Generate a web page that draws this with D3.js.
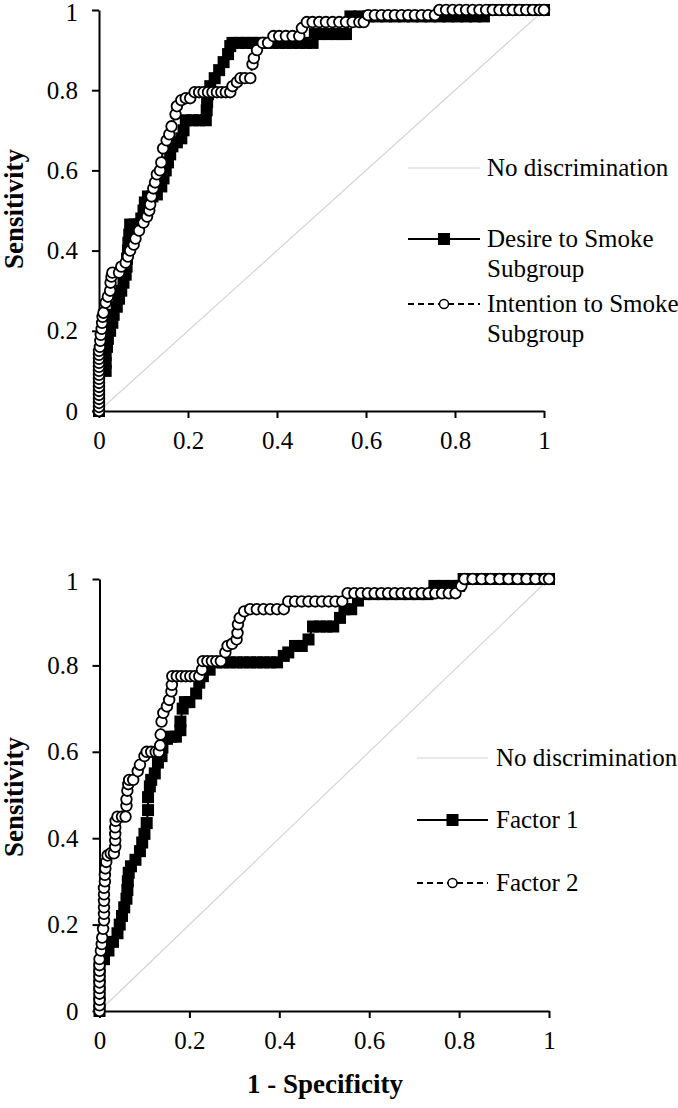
<!DOCTYPE html>
<html>
<head>
<meta charset="utf-8">
<script src="https://cdn.jsdelivr.net/npm/d3@7"></script>
<style>
  html, body { margin: 0; padding: 0; background: #fff; }
  svg { display: block; }
  text { font-family: "Liberation Serif", "Times New Roman", serif; fill: #000; }
</style>
</head>
<body>
<svg id="chart" width="678" height="1108"></svg>
<script>
// ---------- DATA ----------
const tickValues = [0, 0.2, 0.4, 0.6, 0.8, 1];
const tickLabels = ["0", "0.2", "0.4", "0.6", "0.8", "1"];
const xTitle = "1 - Specificity";
const yTitle = "Sensitivity";
const diagX = [0, 1];
const diagY = [0, 1];

// Top panel
const topLegend = ["No discrimination", "Desire to Smoke|Subgroup", "Intention to Smoke|Subgroup"];
const desireFpr = [0,0,0,0,0,0.015,0.015,0.015,0.018,0.02,0.025,0.03,0.033,0.04,0.045,0.05,0.055,0.06,0.062,0.063,0.065,0.066,0.068,0.07,0.08,0.09,0.095,0.1,0.103,0.11,0.12,0.13,0.14,0.145,0.15,0.155,0.16,0.165,0.175,0.185,0.19,0.195,0.21,0.225,0.24,0.242,0.243,0.245,0.25,0.26,0.27,0.28,0.29,0.295,0.30,0.315,0.33,0.345,0.36,0.375,0.39,0.405,0.42,0.435,0.45,0.465,0.48,0.485,0.50,0.515,0.53,0.545,0.555,0.565,0.585,0.605,0.625,0.645,0.665,0.685,0.705,0.725,0.745,0.765,0.785,0.805,0.825,0.845,0.865,0.88,0.9,0.92,0.94,0.96,0.98,1];
const desireTpr = [0,0.02,0.04,0.06,0.08,0.10,0.12,0.14,0.16,0.18,0.20,0.22,0.24,0.26,0.28,0.30,0.32,0.34,0.36,0.38,0.40,0.42,0.44,0.465,0.465,0.465,0.48,0.50,0.52,0.535,0.535,0.54,0.56,0.58,0.60,0.62,0.64,0.66,0.67,0.68,0.70,0.725,0.725,0.725,0.725,0.75,0.77,0.79,0.81,0.83,0.85,0.87,0.89,0.91,0.918,0.918,0.918,0.918,0.918,0.918,0.918,0.918,0.918,0.918,0.918,0.918,0.918,0.94,0.94,0.94,0.94,0.94,0.94,0.984,0.984,0.984,0.984,0.984,0.984,0.984,0.984,0.984,0.984,0.984,0.984,0.984,0.984,0.984,0.984,1,1,1,1,1,1,1];
const intentionFpr = [0,0,0,0,0,0,0,0,0,0,0,0,0,0,0,0,0.002,0.003,0.004,0.006,0.007,0.008,0.01,0.015,0.02,0.025,0.026,0.028,0.03,0.045,0.05,0.06,0.065,0.07,0.078,0.082,0.09,0.1,0.108,0.113,0.115,0.118,0.122,0.126,0.13,0.137,0.14,0.144,0.152,0.158,0.163,0.172,0.175,0.185,0.195,0.205,0.215,0.225,0.235,0.245,0.255,0.265,0.275,0.285,0.295,0.30,0.31,0.318,0.328,0.34,0.345,0.348,0.355,0.368,0.38,0.392,0.405,0.42,0.435,0.45,0.456,0.467,0.48,0.495,0.51,0.525,0.54,0.555,0.57,0.585,0.595,0.605,0.62,0.635,0.65,0.665,0.68,0.695,0.71,0.725,0.74,0.755,0.765,0.78,0.795,0.81,0.825,0.84,0.855,0.87,0.885,0.9,0.915,0.93,0.945,0.96,0.975,0.99,1];
const intentionTpr = [0,0.01,0.02,0.03,0.04,0.05,0.06,0.07,0.08,0.09,0.10,0.11,0.12,0.13,0.14,0.15,0.16,0.175,0.19,0.205,0.22,0.235,0.245,0.27,0.285,0.30,0.32,0.335,0.345,0.345,0.36,0.37,0.385,0.40,0.415,0.43,0.45,0.47,0.485,0.50,0.515,0.535,0.555,0.57,0.59,0.60,0.62,0.655,0.675,0.69,0.71,0.74,0.76,0.775,0.78,0.78,0.795,0.795,0.795,0.795,0.795,0.795,0.795,0.795,0.795,0.81,0.82,0.83,0.83,0.83,0.865,0.88,0.90,0.918,0.918,0.935,0.935,0.935,0.935,0.935,0.955,0.97,0.97,0.97,0.97,0.97,0.97,0.97,0.97,0.97,0.97,0.987,0.987,0.987,0.987,0.987,0.987,0.987,0.987,0.987,0.987,0.987,1,1,1,1,1,1,1,1,1,1,1,1,1,1,1,1,1];

// Bottom panel
const bottomLegend = ["No discrimination", "Factor 1", "Factor 2"];
const factor1Fpr = [0,0,0,0,0,0,0.01,0.02,0.03,0.04,0.045,0.05,0.055,0.06,0.062,0.063,0.065,0.07,0.08,0.09,0.095,0.1,0.105,0.108,0.108,0.112,0.115,0.123,0.13,0.138,0.14,0.15,0.16,0.17,0.18,0.18,0.185,0.19,0.2,0.215,0.222,0.23,0.245,0.26,0.275,0.29,0.305,0.32,0.335,0.35,0.365,0.38,0.395,0.41,0.42,0.435,0.45,0.465,0.475,0.49,0.505,0.52,0.535,0.545,0.56,0.575,0.59,0.61,0.63,0.65,0.67,0.69,0.71,0.73,0.745,0.765,0.785,0.80,0.81,0.83,0.85,0.87,0.89,0.91,0.93,0.95,0.97,0.99,1];
const factor1Tpr = [0,0.02,0.04,0.06,0.08,0.10,0.12,0.14,0.16,0.18,0.20,0.22,0.24,0.26,0.28,0.30,0.32,0.335,0.35,0.37,0.39,0.41,0.435,0.465,0.495,0.52,0.535,0.55,0.575,0.59,0.61,0.63,0.635,0.635,0.65,0.67,0.70,0.715,0.715,0.735,0.76,0.775,0.79,0.807,0.807,0.807,0.807,0.807,0.807,0.807,0.807,0.807,0.807,0.822,0.83,0.845,0.845,0.86,0.89,0.89,0.89,0.89,0.91,0.93,0.93,0.95,0.965,0.965,0.965,0.965,0.965,0.965,0.965,0.965,0.984,0.984,0.984,0.984,1,1,1,1,1,1,1,1,1,1,1];
const factor2Fpr = [0,0,0,0,0,0,0,0,0,0,0.003,0.005,0.006,0.008,0.01,0.01,0.01,0.01,0.01,0.01,0.012,0.012,0.013,0.015,0.018,0.025,0.032,0.035,0.035,0.035,0.035,0.036,0.04,0.05,0.058,0.06,0.06,0.062,0.064,0.066,0.075,0.085,0.09,0.1,0.105,0.115,0.125,0.132,0.135,0.136,0.138,0.142,0.15,0.155,0.16,0.161,0.162,0.172,0.182,0.192,0.202,0.212,0.222,0.228,0.23,0.24,0.25,0.26,0.27,0.28,0.285,0.295,0.305,0.307,0.308,0.312,0.322,0.335,0.35,0.365,0.38,0.395,0.41,0.42,0.435,0.45,0.465,0.48,0.495,0.51,0.525,0.54,0.552,0.567,0.582,0.597,0.612,0.627,0.642,0.657,0.672,0.687,0.702,0.717,0.732,0.747,0.762,0.777,0.792,0.805,0.812,0.83,0.85,0.87,0.89,0.91,0.93,0.95,0.97,0.99,1];
const factor2Tpr = [0,0.013,0.026,0.04,0.053,0.066,0.08,0.093,0.106,0.12,0.14,0.155,0.17,0.19,0.21,0.225,0.24,0.255,0.27,0.285,0.30,0.315,0.33,0.345,0.36,0.365,0.365,0.38,0.395,0.41,0.425,0.44,0.45,0.45,0.45,0.475,0.49,0.51,0.525,0.535,0.535,0.555,0.57,0.59,0.60,0.60,0.60,0.60,0.615,0.64,0.67,0.69,0.705,0.72,0.74,0.755,0.775,0.775,0.775,0.775,0.775,0.775,0.775,0.79,0.81,0.81,0.81,0.81,0.81,0.83,0.845,0.85,0.86,0.875,0.895,0.91,0.925,0.93,0.93,0.93,0.93,0.93,0.93,0.948,0.948,0.948,0.948,0.948,0.948,0.948,0.948,0.948,0.967,0.967,0.967,0.967,0.967,0.967,0.967,0.967,0.967,0.967,0.967,0.967,0.967,0.967,0.967,0.967,0.967,0.984,1,1,1,1,1,1,1,1,1,1,1];

// ---------- DRAW ----------
const svg = d3.select("#chart");
const FONT = '"Liberation Serif", "Times New Roman", serif';

function zip(xs, ys) { return xs.map((x, i) => [x, ys[i]]); }

function panel(cfg) {
  const x = d3.scaleLinear().domain([0, 1]).range([cfg.x0, cfg.x1]);
  const y = d3.scaleLinear().domain([0, 1]).range([cfg.y0, cfg.y1]);
  const g = svg.append("g");

  // diagonal
  g.append("path")
    .datum(zip(diagX, diagY))
    .attr("d", d3.line().x(d => x(d[0])).y(d => y(d[1])))
    .attr("fill", "none").attr("stroke", "#d4d4d4").attr("stroke-width", 1.2);

  const fmt = d => tickLabels[tickValues.indexOf(d)];
  const ax = g.append("g").attr("transform", `translate(0,${cfg.y0})`)
    .call(d3.axisBottom(x).tickValues(tickValues).tickFormat(fmt).tickSize(7).tickPadding(13).tickSizeOuter(0));
  const ay = g.append("g").attr("transform", `translate(${cfg.x0},0)`)
    .call(d3.axisLeft(y).tickValues(tickValues).tickFormat(fmt).tickSize(7).tickPadding(14).tickSizeOuter(0));
  [ax, ay].forEach(a => {
    a.select(".domain").attr("stroke", "#000").attr("stroke-width", 2);
    a.selectAll(".tick line").attr("stroke", "#000").attr("stroke-width", 2);
    a.selectAll(".tick text").attr("font-family", FONT).attr("font-size", 25).attr("fill", "#000");
  });
  ay.selectAll(".tick text").filter(d => d === 1).attr("dy", "0.42em");

  // y title
  g.append("text")
    .attr("transform", `translate(${cfg.yTitleX},${cfg.yTitleY}) rotate(-90)`)
    .attr("text-anchor", "middle").attr("font-weight", "bold").attr("font-size", 27)
    .text(yTitle);

  const line = d3.line().x(d => x(d[0])).y(d => y(d[1]));
  // series A (squares, solid)
  const a = zip(cfg.aX, cfg.aY);
  g.append("path").datum(a).attr("d", line)
    .attr("fill", "none").attr("stroke", "#000").attr("stroke-width", 2);
  g.selectAll(null).data(a).enter().append("rect")
    .attr("x", d => x(d[0]) - 6).attr("y", d => y(d[1]) - 6)
    .attr("width", 12).attr("height", 12).attr("fill", "#000");
  // series B (circles, dashed)
  const b = zip(cfg.bX, cfg.bY);
  g.append("path").datum(b).attr("d", line)
    .attr("fill", "none").attr("stroke", "#000").attr("stroke-width", 2).attr("stroke-dasharray", "6,4");
  g.selectAll(null).data(b).enter().append("circle")
    .attr("cx", d => x(d[0])).attr("cy", d => y(d[1])).attr("r", 5.3)
    .attr("fill", "#fff").attr("stroke", "#000").attr("stroke-width", 1.8);

  // legend
  const L = cfg.legend;
  const lg = g.append("g");
  L.rows.forEach((r, i) => {
    const cy = r.y;
    const seg = lg.append("line").attr("x1", L.lx0).attr("x2", L.lx1).attr("y1", cy).attr("y2", cy);
    if (i === 0) seg.attr("stroke", "#d4d4d4").attr("stroke-width", 1.2);
    else seg.attr("stroke", "#000").attr("stroke-width", 2);
    if (i === 2) seg.attr("stroke-dasharray", "6,4");
    const mx = (L.lx0 + L.lx1) / 2;
    if (i === 1) lg.append("rect").attr("x", mx - 6).attr("y", cy - 6).attr("width", 12).attr("height", 12).attr("fill", "#000");
    if (i === 2) lg.append("circle").attr("cx", mx).attr("cy", cy).attr("r", 4.5).attr("fill", "#fff").attr("stroke", "#000").attr("stroke-width", 1.5);
    const lines = cfg.legendText[i].split("|");
    const t = lg.append("text").attr("x", L.tx).attr("y", cy + 8).attr("font-size", 25);
    lines.forEach((s, k) => t.append("tspan").attr("x", L.tx).attr("dy", k === 0 ? 0 : 30).text(s));
  });
}

panel({
  x0: 99, x1: 544, y0: 411, y1: 10,
  yTitleX: 23, yTitleY: 209,
  aX: desireFpr, aY: desireTpr, bX: intentionFpr, bY: intentionTpr,
  legendText: topLegend,
  legend: { lx0: 408, lx1: 480, tx: 487, rows: [{ y: 168 }, { y: 239 }, { y: 304 }] }
});

panel({
  x0: 99.5, x1: 549, y0: 1011, y1: 579,
  yTitleX: 23, yTitleY: 797,
  aX: factor1Fpr, aY: factor1Tpr, bX: factor2Fpr, bY: factor2Tpr,
  legendText: bottomLegend,
  legend: { lx0: 417, lx1: 488, tx: 496, rows: [{ y: 758 }, { y: 820 }, { y: 883 }] }
});

svg.append("text").attr("x", 325).attr("y", 1093).attr("text-anchor", "middle")
  .attr("font-weight", "bold").attr("font-size", 27).text(xTitle);
</script>
</body>
</html>
